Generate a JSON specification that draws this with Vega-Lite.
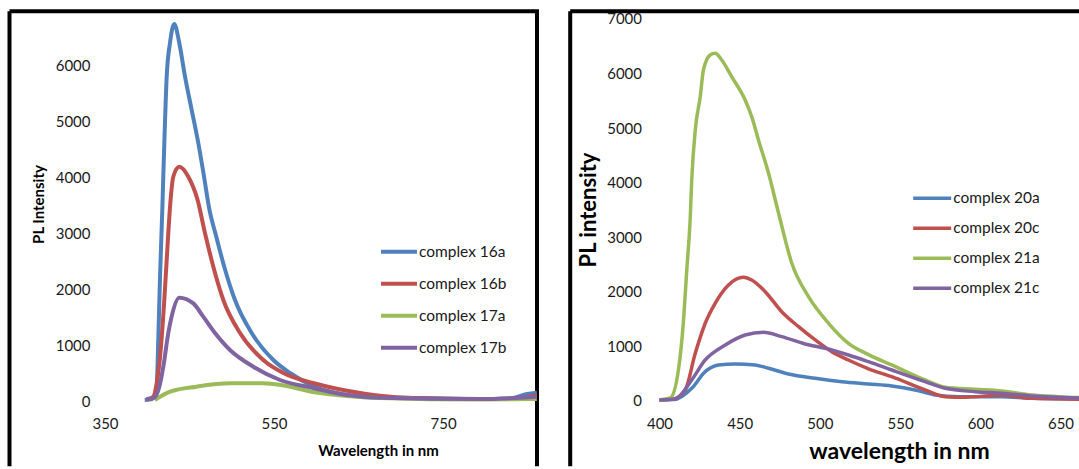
{
  "$schema": "https://vega.github.io/schema/vega-lite/v6.json",
  "background": "white",
  "padding": {"left": 7.5, "top": 9.3, "right": 0, "bottom": 0},
  "spacing": 20.7,
  "config": {
    "axis": {"labelFont": "Lato", "labelFontSize": 15, "labelColor": "#1a1a1a", "format": "d", "titleFont": "Lato", "titleFontWeight": "bold", "titleColor": "#000000", "domain": false, "ticks": false, "tickSize": 0, "grid": false},
    "legend": {"labelFont": "Lato", "labelFontSize": 15.5, "labelColor": "#1a1a1a", "title": null, "padding": 0, "labelOffset": 0}
  },
  "resolve": {"scale": {"color": "independent", "x": "independent", "y": "independent"}, "legend": {"color": "independent"}},
  "datasets": {
    "left": [
      {"s": "complex 16a", "wl": 397, "I": 20}, {"s": "complex 16a", "wl": 405, "I": 30}, {"s": "complex 16a", "wl": 411, "I": 196}, {"s": "complex 16a", "wl": 412.7, "I": 910}, {"s": "complex 16a", "wl": 415, "I": 2160}, {"s": "complex 16a", "wl": 417.8, "I": 3411}, {"s": "complex 16a", "wl": 420.2, "I": 4607}, {"s": "complex 16a", "wl": 423, "I": 5791}, {"s": "complex 16a", "wl": 426.9, "I": 6393}, {"s": "complex 16a", "wl": 432, "I": 6732}, {"s": "complex 16a", "wl": 437.9, "I": 6393}, {"s": "complex 16a", "wl": 444.7, "I": 5791}, {"s": "complex 16a", "wl": 452.6, "I": 5196}, {"s": "complex 16a", "wl": 460.4, "I": 4607}, {"s": "complex 16a", "wl": 467.2, "I": 4005}, {"s": "complex 16a", "wl": 473.4, "I": 3430}, {"s": "complex 16a", "wl": 481.4, "I": 2950}, {"s": "complex 16a", "wl": 491.1, "I": 2398}, {"s": "complex 16a", "wl": 503.8, "I": 1804}, {"s": "complex 16a", "wl": 523.6, "I": 1214}, {"s": "complex 16a", "wl": 549.2, "I": 732}, {"s": "complex 16a", "wl": 568.9, "I": 500}, {"s": "complex 16a", "wl": 596.2, "I": 268}, {"s": "complex 16a", "wl": 636.4, "I": 107}, {"s": "complex 16a", "wl": 675.4, "I": 59}, {"s": "complex 16a", "wl": 714.5, "I": 54}, {"s": "complex 16a", "wl": 793.8, "I": 36}, {"s": "complex 16a", "wl": 829, "I": 45}, {"s": "complex 16a", "wl": 849.4, "I": 125}, {"s": "complex 16a", "wl": 861, "I": 148},
      {"s": "complex 16b", "wl": 399, "I": 20}, {"s": "complex 16b", "wl": 407.2, "I": 77}, {"s": "complex 16b", "wl": 411.2, "I": 321}, {"s": "complex 16b", "wl": 415.9, "I": 911}, {"s": "complex 16b", "wl": 420.2, "I": 1804}, {"s": "complex 16b", "wl": 424.9, "I": 3000}, {"s": "complex 16b", "wl": 427.6, "I": 3589}, {"s": "complex 16b", "wl": 430.8, "I": 4005}, {"s": "complex 16b", "wl": 437.9, "I": 4184}, {"s": "complex 16b", "wl": 448.6, "I": 4005}, {"s": "complex 16b", "wl": 459.6, "I": 3589}, {"s": "complex 16b", "wl": 468.3, "I": 3000}, {"s": "complex 16b", "wl": 478.2, "I": 2398}, {"s": "complex 16b", "wl": 490, "I": 1804}, {"s": "complex 16b", "wl": 509.8, "I": 1214}, {"s": "complex 16b", "wl": 537.3, "I": 732}, {"s": "complex 16b", "wl": 561, "I": 500}, {"s": "complex 16b", "wl": 596, "I": 321}, {"s": "complex 16b", "wl": 636.4, "I": 184}, {"s": "complex 16b", "wl": 675, "I": 95}, {"s": "complex 16b", "wl": 714.5, "I": 54}, {"s": "complex 16b", "wl": 793.8, "I": 36}, {"s": "complex 16b", "wl": 829, "I": 36}, {"s": "complex 16b", "wl": 861, "I": 107},
      {"s": "complex 17a", "wl": 409, "I": 18}, {"s": "complex 17a", "wl": 427, "I": 166}, {"s": "complex 17a", "wl": 458.5, "I": 256}, {"s": "complex 17a", "wl": 498, "I": 316}, {"s": "complex 17a", "wl": 537, "I": 316}, {"s": "complex 17a", "wl": 560, "I": 280}, {"s": "complex 17a", "wl": 596, "I": 161}, {"s": "complex 17a", "wl": 636, "I": 89}, {"s": "complex 17a", "wl": 675, "I": 54}, {"s": "complex 17a", "wl": 794, "I": 27}, {"s": "complex 17a", "wl": 861, "I": 36},
      {"s": "complex 17b", "wl": 399, "I": 36}, {"s": "complex 17b", "wl": 407, "I": 48}, {"s": "complex 17b", "wl": 414.3, "I": 256}, {"s": "complex 17b", "wl": 419, "I": 613}, {"s": "complex 17b", "wl": 424.9, "I": 1214}, {"s": "complex 17b", "wl": 428.8, "I": 1506}, {"s": "complex 17b", "wl": 437.9, "I": 1845}, {"s": "complex 17b", "wl": 454.5, "I": 1744}, {"s": "complex 17b", "wl": 466.3, "I": 1506}, {"s": "complex 17b", "wl": 480.2, "I": 1214}, {"s": "complex 17b", "wl": 497.9, "I": 911}, {"s": "complex 17b", "wl": 525.5, "I": 613}, {"s": "complex 17b", "wl": 557.1, "I": 375}, {"s": "complex 17b", "wl": 596.2, "I": 232}, {"s": "complex 17b", "wl": 636.4, "I": 107}, {"s": "complex 17b", "wl": 675, "I": 59}, {"s": "complex 17b", "wl": 794, "I": 36}, {"s": "complex 17b", "wl": 861, "I": 77}
    ],
    "right": [
      {"s": "complex 20a", "wl": 400, "I": 20}, {"s": "complex 20a", "wl": 408, "I": 25}, {"s": "complex 20a", "wl": 410.8, "I": 37}, {"s": "complex 20a", "wl": 420.1, "I": 232}, {"s": "complex 20a", "wl": 428.5, "I": 537}, {"s": "complex 20a", "wl": 436.8, "I": 660}, {"s": "complex 20a", "wl": 447.2, "I": 678}, {"s": "complex 20a", "wl": 459.7, "I": 660}, {"s": "complex 20a", "wl": 468, "I": 599}, {"s": "complex 20a", "wl": 480.4, "I": 495}, {"s": "complex 20a", "wl": 497.1, "I": 416}, {"s": "complex 20a", "wl": 513.7, "I": 354}, {"s": "complex 20a", "wl": 530.3, "I": 312}, {"s": "complex 20a", "wl": 544.8, "I": 275}, {"s": "complex 20a", "wl": 559.4, "I": 202}, {"s": "complex 20a", "wl": 571.9, "I": 110}, {"s": "complex 20a", "wl": 586.4, "I": 79}, {"s": "complex 20a", "wl": 613.4, "I": 79}, {"s": "complex 20a", "wl": 632.1, "I": 49}, {"s": "complex 20a", "wl": 667, "I": 37},
      {"s": "complex 20c", "wl": 400, "I": 20}, {"s": "complex 20c", "wl": 408.7, "I": 37}, {"s": "complex 20c", "wl": 416, "I": 201}, {"s": "complex 20c", "wl": 422.3, "I": 874}, {"s": "complex 20c", "wl": 428.5, "I": 1424}, {"s": "complex 20c", "wl": 434.7, "I": 1790}, {"s": "complex 20c", "wl": 443, "I": 2126}, {"s": "complex 20c", "wl": 452.4, "I": 2267}, {"s": "complex 20c", "wl": 457.5, "I": 2217}, {"s": "complex 20c", "wl": 465.9, "I": 2003}, {"s": "complex 20c", "wl": 476.2, "I": 1636}, {"s": "complex 20c", "wl": 486.7, "I": 1362}, {"s": "complex 20c", "wl": 497.1, "I": 1118}, {"s": "complex 20c", "wl": 507.4, "I": 903}, {"s": "complex 20c", "wl": 517.8, "I": 751}, {"s": "complex 20c", "wl": 530.3, "I": 590}, {"s": "complex 20c", "wl": 544.8, "I": 445}, {"s": "complex 20c", "wl": 565.6, "I": 202}, {"s": "complex 20c", "wl": 578.1, "I": 79}, {"s": "complex 20c", "wl": 590.6, "I": 68}, {"s": "complex 20c", "wl": 613.4, "I": 110}, {"s": "complex 20c", "wl": 632.1, "I": 49}, {"s": "complex 20c", "wl": 667, "I": 31},
      {"s": "complex 21a", "wl": 400, "I": 20}, {"s": "complex 21a", "wl": 406.7, "I": 55}, {"s": "complex 21a", "wl": 411.8, "I": 568}, {"s": "complex 21a", "wl": 415, "I": 1484}, {"s": "complex 21a", "wl": 417, "I": 2400}, {"s": "complex 21a", "wl": 419.1, "I": 3317}, {"s": "complex 21a", "wl": 420.1, "I": 4050}, {"s": "complex 21a", "wl": 422.3, "I": 4966}, {"s": "complex 21a", "wl": 425.4, "I": 5576}, {"s": "complex 21a", "wl": 427.4, "I": 6066}, {"s": "complex 21a", "wl": 431.6, "I": 6341}, {"s": "complex 21a", "wl": 434.7, "I": 6372}, {"s": "complex 21a", "wl": 438.8, "I": 6249}, {"s": "complex 21a", "wl": 445, "I": 5943}, {"s": "complex 21a", "wl": 453.4, "I": 5516}, {"s": "complex 21a", "wl": 457.5, "I": 5210}, {"s": "complex 21a", "wl": 461.7, "I": 4783}, {"s": "complex 21a", "wl": 468, "I": 4173}, {"s": "complex 21a", "wl": 474.2, "I": 3445}, {"s": "complex 21a", "wl": 482.5, "I": 2523}, {"s": "complex 21a", "wl": 492.9, "I": 1911}, {"s": "complex 21a", "wl": 505.4, "I": 1424}, {"s": "complex 21a", "wl": 517.8, "I": 1057}, {"s": "complex 21a", "wl": 530.3, "I": 850}, {"s": "complex 21a", "wl": 544.8, "I": 660}, {"s": "complex 21a", "wl": 565.6, "I": 385}, {"s": "complex 21a", "wl": 578.1, "I": 251}, {"s": "complex 21a", "wl": 596.8, "I": 214}, {"s": "complex 21a", "wl": 613.4, "I": 183}, {"s": "complex 21a", "wl": 632.1, "I": 110}, {"s": "complex 21a", "wl": 648.8, "I": 79}, {"s": "complex 21a", "wl": 667, "I": 55},
      {"s": "complex 21c", "wl": 400, "I": 20}, {"s": "complex 21c", "wl": 409.8, "I": 37}, {"s": "complex 21c", "wl": 420.1, "I": 385}, {"s": "complex 21c", "wl": 428.5, "I": 751}, {"s": "complex 21c", "wl": 441, "I": 1026}, {"s": "complex 21c", "wl": 453.4, "I": 1209}, {"s": "complex 21c", "wl": 464.8, "I": 1258}, {"s": "complex 21c", "wl": 476.2, "I": 1179}, {"s": "complex 21c", "wl": 490.8, "I": 1045}, {"s": "complex 21c", "wl": 503.3, "I": 965}, {"s": "complex 21c", "wl": 517.8, "I": 843}, {"s": "complex 21c", "wl": 530.3, "I": 720}, {"s": "complex 21c", "wl": 544.8, "I": 568}, {"s": "complex 21c", "wl": 565.6, "I": 354}, {"s": "complex 21c", "wl": 578.1, "I": 232}, {"s": "complex 21c", "wl": 596.8, "I": 171}, {"s": "complex 21c", "wl": 613.4, "I": 141}, {"s": "complex 21c", "wl": 632.1, "I": 92}, {"s": "complex 21c", "wl": 667, "I": 49}
    ]
  },
  "hconcat": [
    {
      "width": 527.5,
      "height": 455,
      "view": {"stroke": "#000000", "strokeWidth": 4, "strokeDash": [982.5, 527.5, 455, 0]},
      "layer": [
        {
          "mark": {"type": "rule", "color": "#a6a6a6", "strokeWidth": 1.5},
          "encoding": {"x": {"datum": 350, "type": "quantitative"}, "y": {"datum": 0, "type": "quantitative"}, "y2": {"datum": 6959}}
        },
        {
          "mark": {"type": "rule", "color": "#a6a6a6", "strokeWidth": 1.5},
          "encoding": {"x": {"datum": 350, "type": "quantitative"}, "x2": {"datum": 861.2}, "y": {"datum": 0, "type": "quantitative"}}
        },
        {
          "data": {"name": "left"},
          "mark": {"type": "line", "interpolate": "monotone", "strokeWidth": 4},
          "encoding": {
            "x": {"field": "wl", "type": "quantitative", "scale": {"domain": [237.0, 861.2], "nice": false, "zero": false},
              "axis": {"values": [350, 550, 750], "offset": -65.3, "labelPadding": 16, "title": "Wavelength in nm", "titleFontSize": 15, "titleX": 368.5, "titleY": 55, "titleBaseline": "alphabetic", "titleAlign": "center"}},
            "y": {"field": "I", "type": "quantitative", "scale": {"domain": [-1166, 6959], "nice": false, "zero": false},
              "axis": {"values": [0, 1000, 2000, 3000, 4000, 5000, 6000], "offset": -95.5, "labelPadding": 15, "title": "PL Intensity", "titleFontSize": 15, "titleX": -62, "titleY": 192.7, "titleAngle": -90, "titleBaseline": "alphabetic", "titleAlign": "center"}},
            "color": {"field": "s", "type": "nominal",
              "scale": {"domain": ["complex 16a", "complex 16b", "complex 17a", "complex 17b"], "range": ["#4f81bd", "#c0504d", "#9bbb59", "#8064a2"]},
              "legend": {"orient": "none", "legendX": 369.5, "legendY": 224.5, "symbolSize": 1296, "symbolStrokeWidth": 4, "clipHeight": 31.7, "rowPadding": 0}}
          }
        }
      ]
    },
    {
      "width": 515.3,
      "height": 455,
      "view": {"stroke": "#000000", "strokeWidth": 4, "strokeDash": [515.3, 970.3, 455, 0]},
      "layer": [
        {
          "mark": {"type": "rule", "color": "#a6a6a6", "strokeWidth": 1.5},
          "encoding": {"x": {"datum": 400, "type": "quantitative"}, "y": {"datum": 0, "type": "quantitative"}, "y2": {"datum": 7000}}
        },
        {
          "mark": {"type": "rule", "color": "#a6a6a6", "strokeWidth": 1.5},
          "encoding": {"x": {"datum": 400, "type": "quantitative"}, "x2": {"datum": 665.6}, "y": {"datum": 0, "type": "quantitative"}}
        },
        {
          "data": {"name": "right"},
          "mark": {"type": "line", "interpolate": "monotone", "strokeWidth": 3.5},
          "encoding": {
            "x": {"field": "wl", "type": "quantitative", "scale": {"domain": [344.33, 665.6], "nice": false, "zero": false},
              "axis": {"values": [400, 450, 500, 550, 600, 650], "offset": -65.3, "labelPadding": 16, "title": "wavelength in nm", "titleFontSize": 23, "titleX": 328.8, "titleY": 58, "titleBaseline": "alphabetic", "titleAlign": "center"}},
            "y": {"field": "I", "type": "quantitative", "scale": {"domain": [-1197, 7141], "nice": false, "zero": false},
              "axis": {"values": [0, 1000, 2000, 3000, 4000, 5000, 6000, 7000], "offset": -87.3, "labelPadding": 16, "title": "PL intensity", "titleFontSize": 22, "titleX": -62, "titleY": 198.2, "titleAngle": -90, "titleBaseline": "alphabetic", "titleAlign": "center"}},
            "color": {"field": "s", "type": "nominal",
              "scale": {"domain": ["complex 20a", "complex 20c", "complex 21a", "complex 21c"], "range": ["#4f81bd", "#c0504d", "#9bbb59", "#8064a2"]},
              "legend": {"orient": "none", "legendX": 341, "legendY": 172.3, "symbolSize": 1444, "symbolStrokeWidth": 3.5, "clipHeight": 29.4, "rowPadding": 0}}
          }
        }
      ]
    }
  ]
}
